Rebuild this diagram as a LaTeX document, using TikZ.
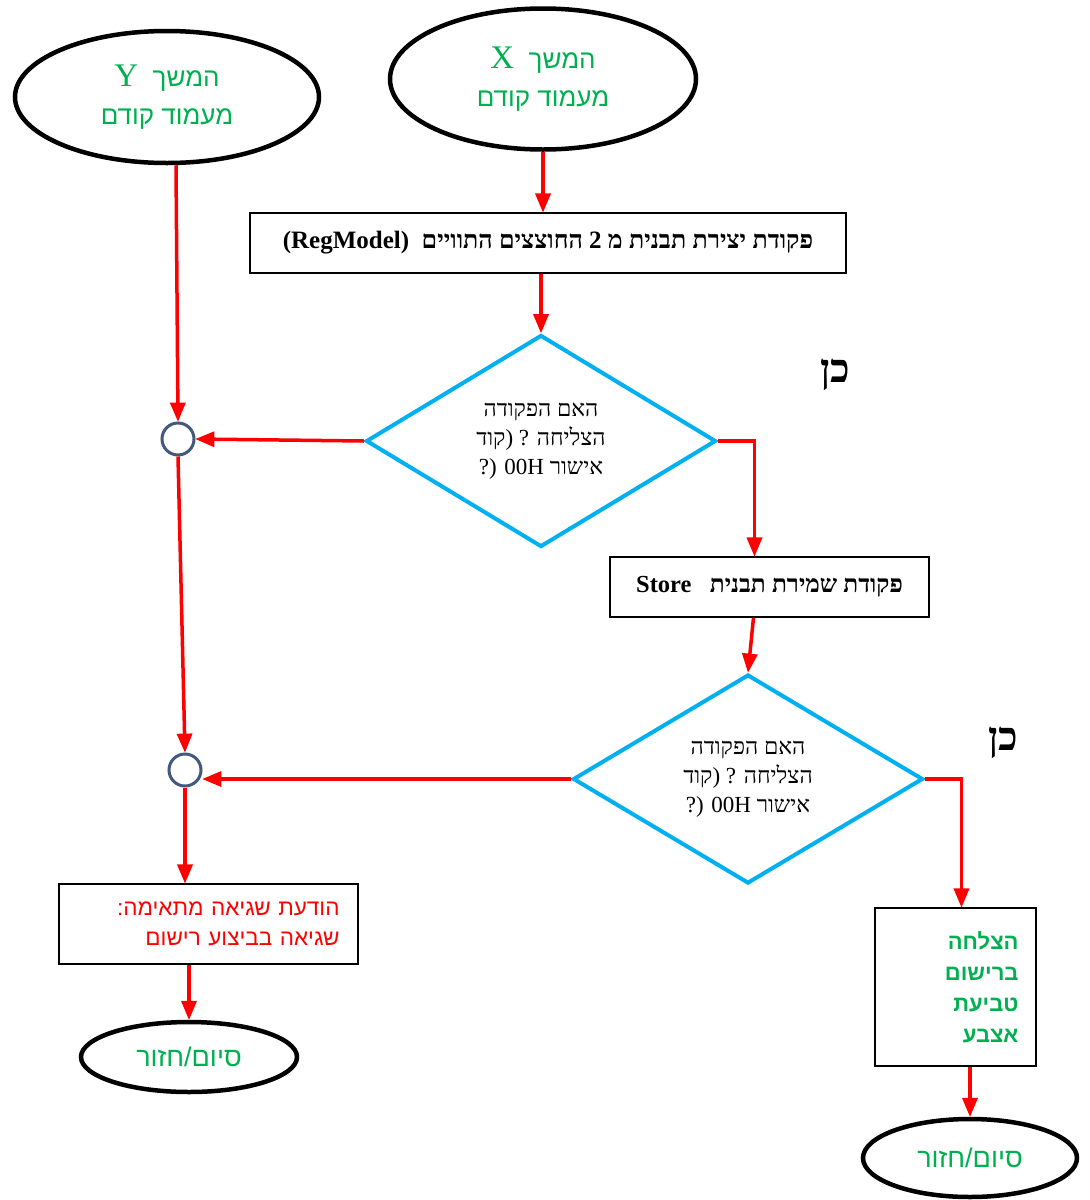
\documentclass[tikz,border=0pt]{standalone}
\usepackage{fontspec}
\setmainfont{Liberation Serif}
\newfontfamily\hebserif[Script=Hebrew]{Liberation Serif}
\newfontfamily\hebsans[Script=Hebrew]{Liberation Sans}
\TeXXeTstate=1
\usetikzlibrary{shapes.geometric, arrows}
\definecolor{okgreen}{HTML}{00B050}
\definecolor{qblue}{HTML}{00B0F0}
\definecolor{ringblue}{HTML}{41597D}
\newcommand{\hebr}[1]{\beginR#1\endR}
\newcommand{\latinbig}[1]{{\rmfamily\fontsize{33}{38}\selectfont #1}}
\tikzset{
    terminal/.style={ellipse, draw=black, line width=4.5pt, inner sep=0pt, align=center, text=okgreen, font=\hebsans\fontsize{26}{38}\selectfont},
    command/.style={rectangle, draw=black, line width=1.3pt, inner sep=0pt, align=center},
    query/.style={diamond, aspect=1.65, draw=qblue, line width=4pt, inner sep=0pt, align=center, font=\hebserif\fontsize{23}{29}\selectfont},
    joint/.style={circle, draw=ringblue, line width=3pt, minimum size=32pt, inner sep=0pt},
    answer/.style={font=\hebserif\bfseries\fontsize{40}{40}\selectfont},
    arrow/.style={line width=3.5pt, red, ->, >=triangle 45}
}
\begin{document}
\begin{tikzpicture}[x=1pt, y=-1pt]
    \useasboundingbox (0,0) rectangle (1090,1200);

    \node (contY) [terminal, minimum width=304pt, minimum height=132pt] at (167,97) {\latinbig{Y}\ \ \hebr{המשך}\\ \hebr{מעמוד קודם}};
    \node (contX) [terminal, minimum width=306pt, minimum height=141pt] at (543,79) {\latinbig{X}\ \ \hebr{המשך}\\ \hebr{מעמוד קודם}};

    \node (makeModel) [command, minimum width=596pt, minimum height=60pt, font=\hebserif\bfseries\fontsize{25}{28}\selectfont] at (548,243) {\hebr{פקודת יצירת תבנית מ 2 החוצצים התוויים\ \ \beginL(RegModel)\endL}};

    \node (ok1) [query, minimum width=350pt, minimum height=212pt] at (541,441) {\hebr{האם הפקודה}\\ \hebr{קוד}( ? \hebr{הצליחה}\\ (? 00H \hebr{אישור}};
    \node (yes1) [answer] at (835,375) {\hebr{כן}};

    \node (storeModel) [command, minimum width=319pt, minimum height=60pt, font=\hebserif\bfseries\fontsize{24.5}{28}\selectfont] at (769.5,587) {Store\ \ \ \hebr{פקודת שמירת תבנית}};

    \node (ok2) [query, minimum width=350pt, minimum height=209pt] at (748,779) {\hebr{האם הפקודה}\\ \hebr{קוד}( ? \hebr{הצליחה}\\ (? 00H \hebr{אישור}};
    \node (yes2) [answer] at (1003,743) {\hebr{כן}};

    \node (circ1) [joint] at (178,439) {};
    \node (circ2) [joint] at (185,770) {};

    \node (errMsg) [command, minimum width=299pt, minimum height=80pt, text width=262pt, align=right, text=red, font=\hebsans\fontsize{22.5}{30}\selectfont] at (208.5,924) {\hebr{הודעת שגיאה מתאימה:}\\ \hebr{שגיאה בביצוע רישום}};
    \node (okMsg) [command, minimum width=161pt, minimum height=158pt, text width=126pt, align=right, text=okgreen, font=\hebsans\bfseries\fontsize{22}{31}\selectfont] at (955.5,987) {\hebr{הצלחה}\\ \hebr{ברישום}\\ \hebr{טביעת}\\ \hebr{אצבע}\\[4pt]};

    \node (endA) [terminal, minimum width=216pt, minimum height=70pt, font=\hebsans\fontsize{27}{30}\selectfont] at (189,1057) {\hebr{סיום/חזור}};
    \node (endB) [terminal, minimum width=214pt, minimum height=78pt, font=\hebsans\fontsize{27}{30}\selectfont] at (970,1158) {\hebr{סיום/חזור}};

    \draw [arrow] (contX.south) -- (contX.south |- makeModel.north);
    \draw [arrow] (makeModel.south -| ok1.north) -- (ok1.north);
    \draw [arrow] ([xshift=9pt]contY.south) -- (circ1.north);
    \draw [arrow] (ok1.west) -- (circ1.east);
    \draw [arrow] (ok1.east) -| ([xshift=-15pt]storeModel.north);
    \draw [arrow] ([xshift=-16pt]storeModel.south) -- (ok2.north);
    \draw [arrow] (ok2.west) -- (ok2.west -| circ2.east);
    \draw [arrow] (circ1.south) -- (circ2.north);
    \draw [arrow] (circ2.south) -- (circ2.south |- errMsg.north);
    \draw [arrow] (errMsg.south -| endA.north) -- (endA.north);
    \draw [arrow] (ok2.east) -| ([xshift=6pt]okMsg.north);
    \draw [arrow] (okMsg.south -| endB.north) -- (endB.north);
\end{tikzpicture}
\end{document}
